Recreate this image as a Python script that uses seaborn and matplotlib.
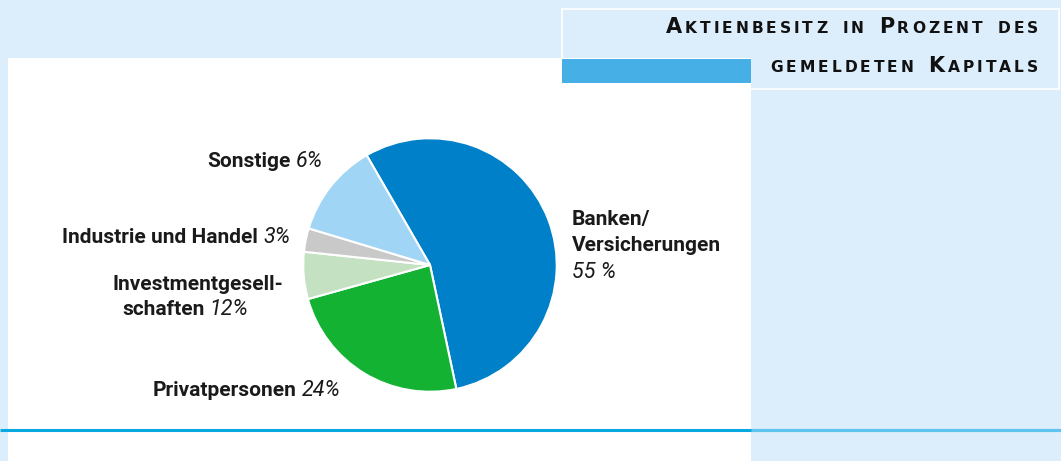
import matplotlib
matplotlib.use("Agg")
import matplotlib.pyplot as plt
import seaborn as sns
from matplotlib.patches import Rectangle

# ---- Data ----
segments = ["Banken/Versicherungen", "Privatpersonen", "Investmentgesellschaften",
            "Industrie und Handel", "Sonstige"]
shares = [55, 24, 6, 3, 12]          # slice sizes as drawn
label_pcts = ["55 %", "24%", "12%", "3%", "6%"]   # printed labels
slice_colors = ["#0080C8", "#13B233", "#C4E1C1", "#C9C9C9", "#A1D5F5"]
title_lines = ["Aktienbesitz in Prozent des", "gemeldeten Kapitals"]

# ---- Style ----
sns.set_theme(style="white")
plt.rcParams["font.family"] = ["Roboto", "DejaVu Sans"]

BG = "#DCEEFB"
W, H = 1061, 461
fig = plt.figure(figsize=(W / 100, H / 100), dpi=100, facecolor=BG)

# background canvas in pixel units
bg = fig.add_axes([0, 0, 1, 1])
bg.set_xlim(0, W)
bg.set_ylim(H, 0)
bg.axis("off")
bg.set_facecolor(BG)

bg.add_patch(Rectangle((8, 58), 743, H - 58, facecolor="white", edgecolor="none"))
bg.add_patch(Rectangle((562, 9), 497, 80, facecolor="none", edgecolor="white", lw=1.2))
bg.add_patch(Rectangle((562, 59), 189, 24, facecolor="#46B0E6", edgecolor="none"))
bg.plot([0, W], [430, 430], color="#0AA8E0", lw=2.2, solid_capstyle="butt")
bg.plot([751, W], [430, 430], color="#5EC3EE", lw=2.2, solid_capstyle="butt")

fig.canvas.draw()
renderer = fig.canvas.get_renderer()


def width_of(t):
    return t.get_window_extent(renderer=renderer).width


def draw_runs(x, y, pieces, ha="left", gap=5):
    """Draw several text runs on one line, each with its own style."""
    texts = []
    for s, kw in pieces:
        texts.append(bg.text(0, y, s, va="center", ha="left", **kw))
    widths = [width_of(t) for t in texts]
    total = sum(widths) + gap * (len(texts) - 1)
    cx = x - total if ha == "right" else x
    for t, w in zip(texts, widths):
        t.set_x(cx)
        cx += w + gap


def small_caps(x_right, y, text, big=15, small=11.2, track=3.0, space=9):
    """Right-aligned letter-spaced small caps title."""
    items = []
    for word_i, word in enumerate(text.split(" ")):
        if word_i > 0:
            items.append(None)
        for ch in word:
            size = big if ch.isupper() else small
            items.append(bg.text(0, y, ch.upper(), fontsize=size, fontweight="bold",
                                 family=["DejaVu Sans"], va="baseline", ha="left",
                                 color="#111111"))
    widths = [space if it is None else width_of(it) for it in items]
    total = sum(widths) + track * (len(items) - 1)
    cx = x_right - total
    for it, w in zip(items, widths):
        if it is not None:
            it.set_x(cx)
        cx += w + track


small_caps(1038, 33, title_lines[0])
small_caps(1038, 72, title_lines[1])

# ---- Pie ----
cx, cy, r = 430, 265, 128
pie_ax = fig.add_axes([(cx - r) / W, (H - cy - r) / H, 2 * r / W, 2 * r / H])
pie_ax.pie(shares, colors=slice_colors, startangle=120, counterclock=False,
           radius=1, wedgeprops=dict(edgecolor="white", linewidth=1.5))
pie_ax.set_xlim(-1.01, 1.01)
pie_ax.set_ylim(-1.01, 1.01)
pie_ax.set_aspect("equal")
pie_ax.axis("off")

# ---- Labels ----
lab = dict(fontsize=15, fontweight="bold", color="#1a1a1a")
pct = dict(fontsize=15.5, fontweight="normal", style="italic", color="#1a1a1a")

draw_runs(323, 161, [("Sonstige", lab), (label_pcts[4], pct)], ha="right")
draw_runs(290, 237, [("Industrie und Handel", lab), (label_pcts[3], pct)], ha="right")
draw_runs(113, 284, [("Investmentgesell-", lab)])
draw_runs(122, 309, [("schaften", lab), (label_pcts[2], pct)])
draw_runs(340, 390, [("Privatpersonen", lab), (label_pcts[1], pct)], ha="right")
draw_runs(572, 219, [("Banken/", lab)])
draw_runs(572, 245, [("Versicherungen", lab)])
draw_runs(572, 272, [(label_pcts[0], pct)])

fig.savefig("out.png", dpi=100, facecolor=BG)
